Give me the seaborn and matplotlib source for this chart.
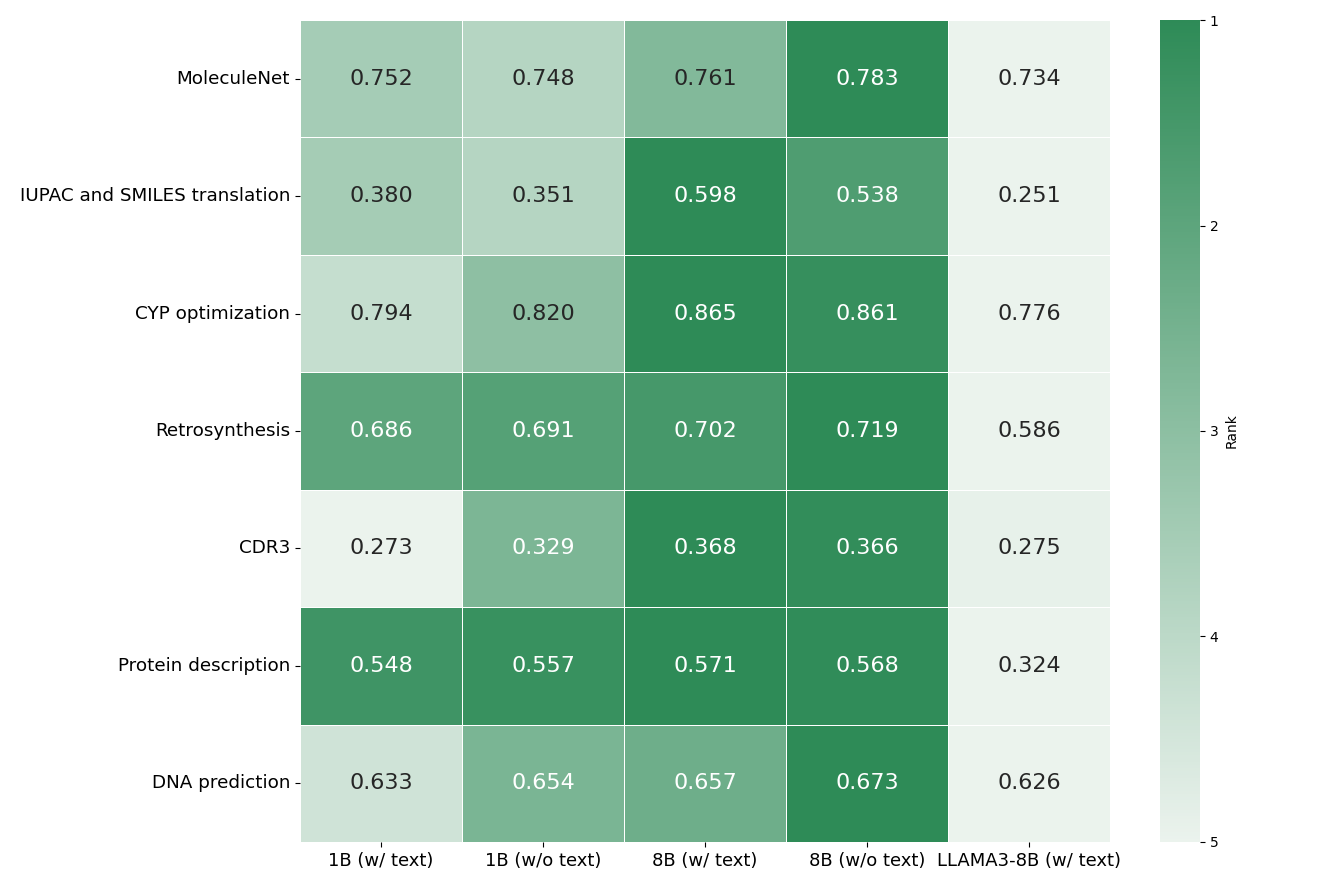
import numpy as np
import pandas as pd
import matplotlib
matplotlib.use("Agg")
import matplotlib.pyplot as plt
import seaborn as sns

tasks = ["MoleculeNet", "IUPAC and SMILES translation", "CYP optimization",
         "Retrosynthesis", "CDR3", "Protein description", "DNA prediction"]
models = ["1B (w/ text)", "1B (w/o text)", "8B (w/ text)", "8B (w/o text)",
          "LLAMA3-8B (w/ text)"]

molnet = [0.752, 0.748, 0.761, 0.783, 0.734]
iupac = [0.380, 0.351, 0.598, 0.538, 0.251]
cyp = [0.794, 0.820, 0.865, 0.861, 0.776]
retro = [0.686, 0.691, 0.702, 0.719, 0.586]
cdr3 = [0.273, 0.329, 0.368, 0.366, 0.275]
protein = [0.548, 0.557, 0.571, 0.568, 0.324]
dna = [0.633, 0.654, 0.657, 0.673, 0.626]

scores = pd.DataFrame([molnet, iupac, cyp, retro, cdr3, protein, dna],
                      index=tasks, columns=models)


def to_rank_scale(df):
    # continuous "rank": best in row -> 1, worst in row -> 5
    mx = df.max(axis=1)
    mn = df.min(axis=1)
    return 1 + 4 * df.rsub(mx, axis=0).div(mx - mn, axis=0)


ranks = to_rank_scale(scores)

fig = plt.figure(figsize=(13.29, 8.86), dpi=100)
ax = fig.add_axes([0.2257, 0.0497, 0.6095, 0.9277])
cax = fig.add_axes([0.873, 0.0497, 0.030, 0.9277])

cmap = sns.light_palette("seagreen", reverse=True, as_cmap=True)
sns.heatmap(ranks, annot=scores.values, fmt=".3f", cmap=cmap, vmin=1, vmax=5,
            linewidths=0.5, linecolor="white", ax=ax, cbar_ax=cax,
            annot_kws={"fontsize": 16},
            cbar_kws={"label": "Rank", "ticks": [1, 2, 3, 4, 5]})
cax.invert_yaxis()
cax.tick_params(labelsize=10)
cax.yaxis.label.set_size(10)
for s in cax.spines.values():
    s.set_visible(False)
ax.tick_params(axis="y", labelsize=13.2)
ax.tick_params(axis="x", labelsize=13)
ax.set_yticklabels(ax.get_yticklabels(), rotation=0)
ax.set_xticklabels(ax.get_xticklabels(), rotation=0)

fig.savefig("out.png", dpi=100)
